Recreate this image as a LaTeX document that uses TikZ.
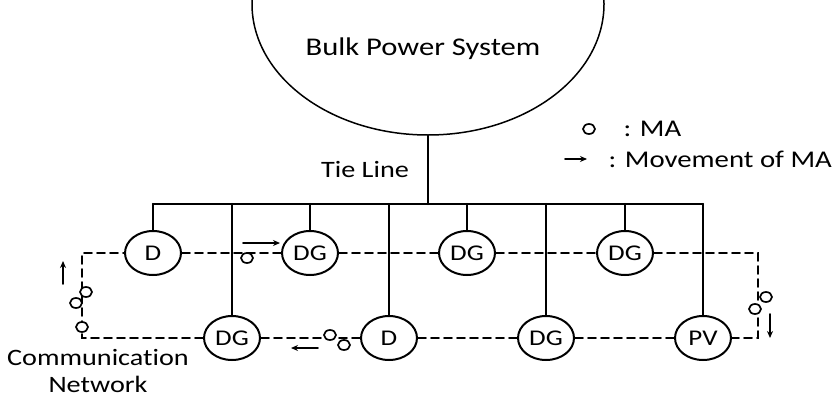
\documentclass[tikz,border=0pt]{standalone}
\usepackage{fontspec}
\setmainfont{Carlito}[FakeStretch=1.2, Ligatures=NoCommon]
\usetikzlibrary{shapes.geometric,arrows.meta}

\begin{document}
\begin{tikzpicture}[x=1pt, y=-1pt, line cap=round, >={Stealth[length=7pt,width=6pt]},
  unit/.style={draw, ellipse, line width=2pt, fill=white, minimum width=56pt,
    minimum height=44pt, inner sep=0pt, font=\fontsize{22.5}{24}\selectfont},
  ma/.style={draw, ellipse, line width=1.7pt, fill=white, minimum width=12pt,
    minimum height=10pt, inner sep=0pt},
  comm/.style={line width=1.9pt, dash pattern=on 8pt off 5pt},
  power/.style={line width=2.1pt},
  move/.style={line width=1.8pt, ->},
  lbl/.style={font=\fontsize{23.5}{27}\selectfont},
  legend/.style={font=\fontsize{24}{26}\selectfont, anchor=west}]

\useasboundingbox (0,0) rectangle (832,399);

%% Bulk power system, cut by the top edge.

\begin{scope}
\clip (0,0) rectangle (832,399);
\node[draw, ellipse, line width=1.5pt, minimum width=352pt, minimum height=262pt] (bps) at (428,4) {};
\end{scope}
\node[font=\fontsize{25.5}{27}\selectfont, anchor=base] (bpsname) at (423,55) {Bulk Power System};

%% Units of the microgrid.

\node[unit] (d1)  at (153,253) {D};
\node[unit] (dg1) at (310,253) {DG};
\node[unit] (dg2) at (467,253) {DG};
\node[unit] (dg3) at (625,253) {DG};
\node[unit] (dg4) at (232,338) {DG};
\node[unit] (d2)  at (389,338) {D};
\node[unit] (dg5) at (546,338) {DG};
\node[unit] (pv)  at (703,338) {PV};

%% Tie line and bus.

\coordinate (bus) at (428,204);
\draw[power] (bps.south) -- (bus);
\node[lbl] (tie) at (365,169) {Tie Line};
\draw[power] (d1 |- bus) -- (pv |- bus);
\foreach \n in {d1,dg1,dg2,dg3} \draw[power] (\n) -- (\n |- bus);
\foreach \n in {dg4,d2,dg5,pv} \draw[power] (\n |- bus) -- (\n);

%% Communication network.

\coordinate (nw) at (82,253);
\coordinate (ne) at (758,253);
\coordinate (se) at (758,338);
\coordinate (sw) at (82,338);
\draw[comm] (d1) -- (dg1) -- (dg2) -- (dg3) -- (ne) -- (se) -- (pv) -- (dg5)
  -- (d2) -- (dg4) -- (sw) -- (nw) -- (d1);
\node[lbl, align=center, inner sep=0pt] (net) at (98,371) {Communication\\Network};

%% Mobile agents and their movement.

\node[ma] (ma1) at (247,258) {};
\node[ma] (ma2) at (86,292) {};
\node[ma] (ma3) at (76,303) {};
\node[ma] (ma4) at (82,327) {};
\node[ma] (ma5) at (330,335) {};
\node[ma] (ma6) at (344,345) {};
\node[ma] (ma7) at (766,297) {};
\node[ma] (ma8) at (755,309) {};

\coordinate (m1a) at (243,243); \coordinate (m1b) at (280,243);
\coordinate (m2a) at (63,284);  \coordinate (m2b) at (63,261);
\coordinate (m3a) at (318,348); \coordinate (m3b) at (291,348);
\coordinate (m4a) at (770,314); \coordinate (m4b) at (770,338);
\foreach \i in {1,...,4} \draw[move] (m\i a) -- (m\i b);

%% Legend.

\node[ma] (keyma) at (589,129) {};
\node[legend] (keymatext) at (620,129) {: MA};
\coordinate (keya) at (565,159);
\coordinate (keyb) at (587,159);
\draw[move] (keya) -- (keyb);
\node[legend] (keymovetext) at (605,159) {: Movement of MA};

\end{tikzpicture}
\end{document}
